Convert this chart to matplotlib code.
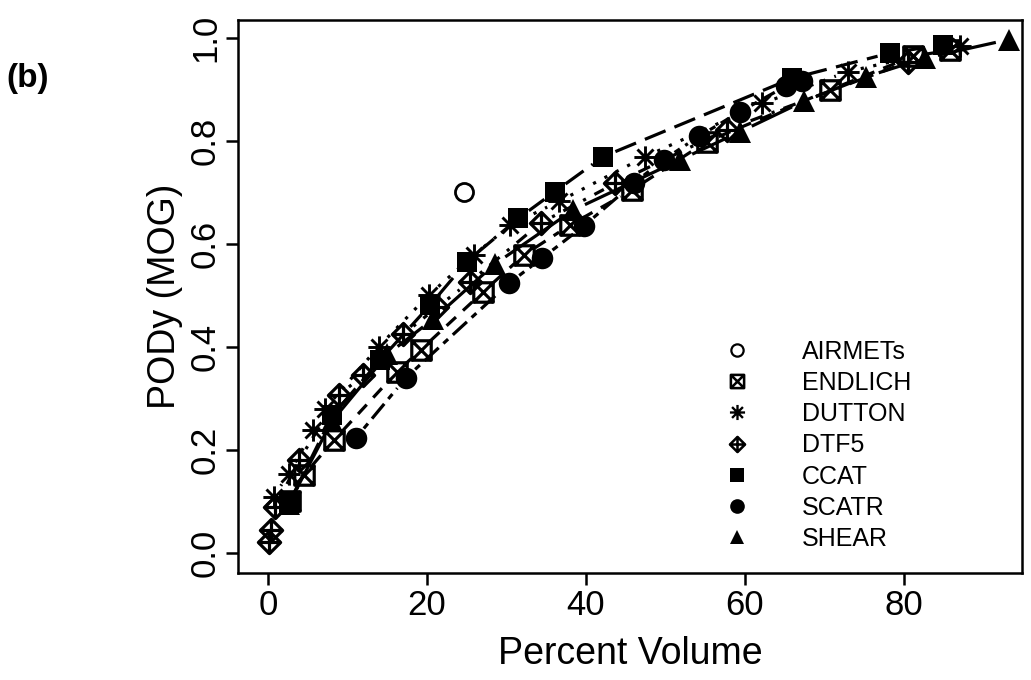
import numpy as np
import matplotlib
matplotlib.use("Agg")
import matplotlib.pyplot as plt
from matplotlib.path import Path
from matplotlib.lines import Line2D

plt.rcParams['font.family'] = ['Liberation Sans', 'DejaVu Sans']

# values
names = ["AIRMETs", "ENDLICH", "DUTTON", "DTF5", "CCAT", "SCATR", "SHEAR"]

airmets_x = [24.6]
airmets_y = [0.70]

endlich_x = [2.8, 4.5, 8.3, 16.2, 19.2, 27.1, 32.2, 38.0, 45.8, 55.2, 70.7, 81.2, 85.8]
endlich_y = [0.100, 0.151, 0.219, 0.351, 0.394, 0.507, 0.578, 0.636, 0.704, 0.798, 0.898, 0.964, 0.975]

dutton_x = [0.7, 2.6, 5.7, 7.2, 13.9, 20.2, 25.9, 30.5, 36.6, 47.5, 62.2, 73.0, 87.1]
dutton_y = [0.109, 0.154, 0.238, 0.280, 0.400, 0.500, 0.578, 0.636, 0.682, 0.769, 0.872, 0.934, 0.983]

dtf5_x = [0.1, 0.3, 0.9, 3.9, 8.9, 12.0, 17.0, 21.3, 25.4, 34.3, 43.7, 57.7, 80.6]
dtf5_y = [0.021, 0.044, 0.089, 0.180, 0.306, 0.345, 0.424, 0.477, 0.526, 0.640, 0.717, 0.821, 0.953]

ccat_x = [2.6, 8.1, 14.1, 20.4, 25.0, 31.5, 36.1, 42.2, 66.0, 78.3, 85.0]
ccat_y = [0.096, 0.267, 0.374, 0.481, 0.565, 0.649, 0.701, 0.769, 0.921, 0.970, 0.986]

scatr_x = [11.0, 17.3, 30.3, 34.5, 39.7, 46.0, 49.8, 54.2, 59.4, 65.2, 67.2]
scatr_y = [0.222, 0.339, 0.523, 0.572, 0.634, 0.717, 0.763, 0.808, 0.856, 0.906, 0.915]

shear_x = [2.6, 8.0, 15.0, 20.8, 28.5, 38.4, 51.9, 59.4, 67.4, 75.3, 82.7, 93.2]
shear_y = [0.095, 0.255, 0.385, 0.454, 0.560, 0.665, 0.763, 0.817, 0.876, 0.924, 0.960, 0.996]

xticks = [0, 20, 40, 60, 80]
yticks = [0.0, 0.2, 0.4, 0.6, 0.8, 1.0]


# R-like plotting symbols
box_x = Path([(-1, -1), (1, -1), (1, 1), (-1, 1), (-1, -1), (-1, -1), (1, 1), (-1, 1), (1, -1)],
             [1, 2, 2, 2, 79, 1, 2, 1, 2])
diam_plus = Path([(0, -1), (1, 0), (0, 1), (-1, 0), (0, -1), (-1, 0), (1, 0), (0, -1), (0, 1)],
                 [1, 2, 2, 2, 79, 1, 2, 1, 2])
c = 0.72
aster = Path([(-1, 0), (1, 0), (0, -1), (0, 1), (-c, -c), (c, c), (-c, c), (c, -c)],
             [1, 2, 1, 2, 1, 2, 1, 2])

styles = {
    "AIRMETs": dict(marker="o", ms=13, mfc="white", mew=2.0, ls="none"),
    "ENDLICH": dict(marker=box_x, ms=14, mfc="none", mew=2.3, ls=(0, (4, 3))),
    "DUTTON": dict(marker=aster, ms=16, mfc="none", mew=2.1, ls=(0, (1, 3))),
    "DTF5": dict(marker=diam_plus, ms=16, mfc="none", mew=2.3, ls=(0, (1, 3, 4, 3))),
    "CCAT": dict(marker="s", ms=14.5, mfc="black", mew=0, ls=(0, (7, 3))),
    "SCATR": dict(marker="o", ms=15.5, mfc="black", mew=0, ls=(0, (2, 2, 6, 2))),
    "SHEAR": dict(marker="^", ms=15.5, mfc="black", mew=0, ls="-"),
}

series = {
    "AIRMETs": (airmets_x, airmets_y),
    "ENDLICH": (endlich_x, endlich_y),
    "DUTTON": (dutton_x, dutton_y),
    "DTF5": (dtf5_x, dtf5_y),
    "CCAT": (ccat_x, ccat_y),
    "SCATR": (scatr_x, scatr_y),
    "SHEAR": (shear_x, shear_y),
}

fig = plt.figure(figsize=(10.31, 6.80), dpi=100)
ax = fig.add_axes([0.2308, 0.1574, 0.9913 - 0.2308, 0.9706 - 0.1574])
ax.set_xlim(-3.8, 94.9)
ax.set_ylim(-0.039, 1.034)

gap = 13  # pixels, like R type="b"
for k, name in enumerate(names):
    x, y = series[name]
    st = styles[name]
    pts = ax.transData.transform(np.column_stack([x, y]))
    if st["ls"] != "none":
        for i in range(len(pts) - 1):
            d = pts[i + 1] - pts[i]
            L = np.hypot(*d)
            if L <= 2 * gap:
                continue
            a = pts[i] + d / L * gap
            b = pts[i + 1] - d / L * gap
            seg = ax.transData.inverted().transform(np.vstack([a, b]))
            ax.plot(seg[:, 0], seg[:, 1], color="black", lw=2.3, ls=st["ls"],
                    zorder=2 + k, solid_capstyle="butt", dash_capstyle="butt")
    ax.plot(x, y, ls="none", marker=st["marker"], ms=st["ms"], mfc=st["mfc"],
            mec="black", mew=st["mew"], zorder=2 + k)

for s in ax.spines.values():
    s.set_linewidth(1.8)
ax.set_xticks(xticks)
ax.set_xticklabels([str(t) for t in xticks])
ax.set_yticks(yticks)
ax.set_yticklabels(["%.1f" % t for t in yticks], rotation=90, va="center")
ax.tick_params(axis="both", length=8.5, width=1.8, labelsize=25, pad=3)

ax.set_xlabel("Percent Volume", fontsize=27, labelpad=10)
ax.set_ylabel("PODy (MOG)", fontsize=27, labelpad=4)

handles = []
for name in names:
    st = styles[name]
    handles.append(Line2D([], [], ls="none", marker=st["marker"], ms=st["ms"] * 0.68,
                          mfc=st["mfc"], mec="black", mew=st["mew"] * 0.8))
ax.legend(handles, names, loc="upper left", bbox_to_anchor=(0.592, 0.44),
          frameon=False, fontsize=18, handlelength=2.0, handletextpad=1.6,
          labelspacing=0.29, borderaxespad=0)

fig.text(0.006, 0.885, "(b)", fontsize=24, fontweight="bold", va="center")

fig.savefig("out.png", dpi=100)
